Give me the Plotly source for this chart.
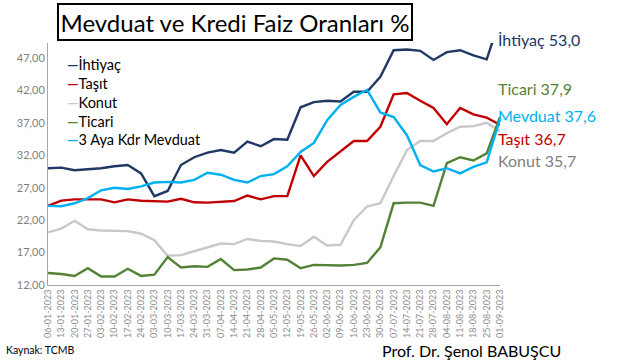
import plotly.graph_objects as go

dates = ["06-01-2023", "13-01-2023", "20-01-2023", "27-01-2023", "03-02-2023", "10-02-2023",
         "17-02-2023", "24-02-2023", "03-03-2023", "10-03-2023", "17-03-2023", "24-03-2023",
         "31-03-2023", "07-04-2023", "14-04-2023", "21-04-2023", "28-04-2023", "05-05-2023",
         "12-05-2023", "19-05-2023", "26-05-2023", "02-06-2023", "09-06-2023", "16-06-2023",
         "23-06-2023", "30-06-2023", "07-07-2023", "14-07-2023", "21-07-2023", "28-07-2023",
         "04-08-2023", "11-08-2023", "18-08-2023", "25-08-2023", "01-09-2023"]

ihtiyac = [30.0, 30.1, 29.7, 29.8, 30.0, 30.3, 30.5, 29.2, 25.7, 26.5, 30.5, 31.7, 32.4, 32.8,
           32.4, 34.1, 33.4, 34.5, 34.4, 39.4, 40.2, 40.4, 40.3, 41.8, 41.8, 44.1, 48.2, 48.3,
           48.1, 46.7, 47.9, 48.2, 47.4, 46.8, 53.0]
tasit = [24.2, 25.0, 25.2, 25.2, 25.2, 24.75, 25.2, 25.0, 24.9, 24.85, 25.3, 24.75, 24.7, 24.85,
         24.95, 25.8, 25.2, 25.7, 25.7, 32.0, 28.8, 31.0, 32.6, 34.2, 34.2, 36.4, 41.4, 41.6,
         40.4, 39.3, 36.8, 39.3, 38.3, 37.8, 36.7]
konut = [20.1, 20.7, 21.9, 20.6, 20.4, 20.3, 20.3, 19.9, 18.9, 16.5, 16.6, 17.2, 17.8, 18.4,
         18.3, 19.1, 18.8, 18.7, 18.3, 18.0, 19.45, 18.1, 18.2, 22.0, 24.1, 24.6, 28.8, 32.8,
         34.2, 34.2, 35.4, 36.4, 36.5, 37.0, 35.7]
ticari = [13.85, 13.7, 13.4, 14.6, 13.3, 13.3, 14.5, 13.4, 13.6, 16.3, 14.7, 14.9, 14.8, 16.0,
          14.3, 14.4, 14.7, 16.1, 15.9, 14.6, 15.1, 15.0, 15.0, 15.1, 15.4, 17.8, 24.6, 24.7,
          24.7, 24.2, 30.8, 31.7, 31.2, 32.3, 37.9]
mevduat = [24.2, 24.15, 24.6, 25.4, 26.6, 27.0, 26.8, 27.2, 27.8, 27.9, 27.8, 28.2, 29.3, 29.0,
           28.2, 27.8, 28.8, 29.1, 30.3, 32.5, 33.9, 37.4, 39.75, 41.0, 42.1, 38.6, 37.9, 35.1,
           30.5, 29.5, 30.0, 29.2, 30.2, 30.9, 37.6]

series_names = ["İhtiyaç", "Taşıt", "Konut", "Ticari", "3 Aya Kdr Mevduat"]
series_values = [ihtiyac, tasit, konut, ticari, mevduat]
series_colors = ["#203864", "#C00000", "#C8C8C8", "#548235", "#00B0F0"]

end_labels = ["İhtiyaç 53,0", "Ticari 37,9", "Mevduat 37,6", "Taşıt 36,7", "Konut 35,7"]
end_colors = ["#203864", "#548235", "#00B0F0", "#C00000", "#808080"]
end_label_y = [40, 88, 115, 138, 160]  # pixel rows of the side labels

FONT = "Lato, Calibri, Arial, sans-serif"

L, R, T, B = 48, 140, 43, 75
W, H = 640, 360
PW, PH = W - L - R, H - T - B
Y_BOTTOM = 12
Y_TOP = 12 + PH / 6.486


def px(x):
    return (x - L) / PW


def py(y):
    return (H - B - y) / PH


fig = go.Figure()
for name, vals, col in zip(series_names, series_values, series_colors):
    fig.add_trace(go.Scatter(x=dates, y=vals, name=name, mode="lines",
                             line=dict(color=col, width=2.4)))

fig.update_layout(
    width=W, height=H,
    margin=dict(l=L, r=R, t=T, b=B),
    paper_bgcolor="white", plot_bgcolor="white",
    separators=",.",
    font=dict(family=FONT, color="#000000"),
    showlegend=False,
    hovermode=False,
    xaxis=dict(type="category", showgrid=False, showline=True, linecolor="#A6A6A6",
               linewidth=1, tickangle=-90, ticks="",
               tickfont=dict(size=9, color="#8C8C8C", family=FONT)),
    yaxis=dict(range=[Y_BOTTOM, Y_TOP], tick0=12, dtick=5, tickformat=".2f",
               showgrid=False, showline=True, linecolor="#A6A6A6", linewidth=1,
               ticks="", zeroline=False,
               tickfont=dict(size=11, color="#7F7F7F", family=FONT)),
)

# Legend (drawn as text with coloured dashes, matching the compact Excel legend)
legend_text = "<br>".join(
    f"<span style='color:{c}'><b>—</b></span>{n}"
    for n, c in zip(series_names, series_colors)
)
fig.add_annotation(x=px(65), y=py(54), xref="paper", yref="paper", text=legend_text,
                   showarrow=False, xanchor="left", yanchor="top", align="left",
                   font=dict(size=14.5, color="#000000", family=FONT))

# Title box
fig.add_annotation(x=px(235), y=py(22), xref="paper", yref="paper",
                   text="Mevduat ve Kredi Faiz Oranları %", showarrow=False,
                   font=dict(size=24, color="#000000", family=FONT),
                   width=348, height=30, borderpad=2,
                   bordercolor="#000000", borderwidth=2,
                   bgcolor="white", xanchor="center", yanchor="middle")

for txt, col, yy in zip(end_labels, end_colors, end_label_y):
    fig.add_annotation(x=px(496), y=py(yy), xref="paper", yref="paper", text=txt,
                       showarrow=False, xanchor="left", yanchor="middle",
                       font=dict(size=16, color=col, family=FONT))

fig.add_annotation(x=px(4), y=py(350), xref="paper", yref="paper", text="Kaynak: TCMB",
                   showarrow=False, xanchor="left", yanchor="middle",
                   font=dict(size=10.5, color="#000000", family=FONT))
fig.add_annotation(x=px(380), y=py(350), xref="paper", yref="paper",
                   text="Prof. Dr. Şenol BABUŞCU", showarrow=False, xanchor="left",
                   yanchor="middle", font=dict(size=16, color="#000000", family=FONT))

fig.write_html("out.html", config={"displayModeBar": False, "staticPlot": True},
               post_script="document.body.style.margin='0px';")
